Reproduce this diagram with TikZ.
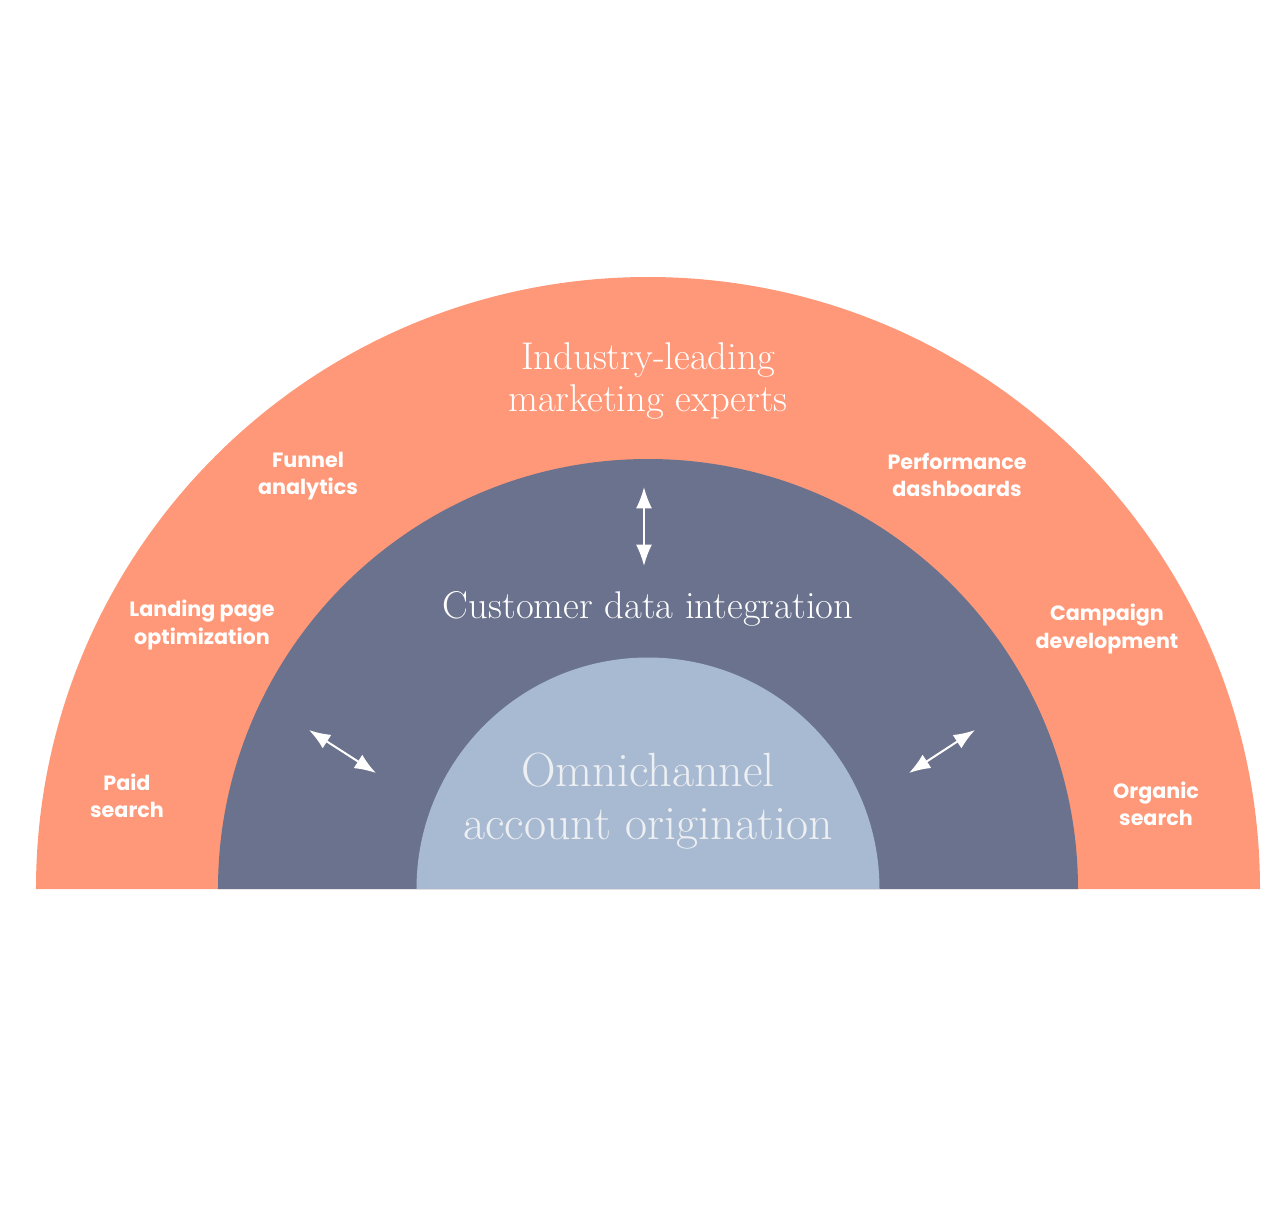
\documentclass[tikz,border=0pt]{standalone}
\usepackage{fontspec}
\newfontfamily\lblfont{Poppins}
\usetikzlibrary{positioning, arrows.meta}

\definecolor{ringout}{HTML}{FF9878}
\definecolor{ringmid}{HTML}{6B728D}
\definecolor{ringin}{HTML}{A8BAD1}
\definecolor{coretext}{HTML}{EDEFF2}

\begin{document}
\begin{tikzpicture}[
    x=0.75pt, y=0.75pt,
    % Estilos de texto
    title/.style={text=white, align=center, font=\fontsize{29}{32}\selectfont},
    coretitle/.style={text=coretext, align=center, font=\fontsize{36}{40}\selectfont},
    channel/.style={text=white, align=center, font=\lblfont\bfseries\fontsize{15.5}{20.5}\selectfont},
    % Estilo de flechas
    link/.style={{Latex[length=16pt, width=12pt]}-{Latex[length=16pt, width=12pt]}, line width=1.5pt, draw=white}
]
\useasboundingbox (-648,-340) rectangle (632,889);

% --- Anillos ---
\fill[ringout] (-612,0) arc (180:0:612) -- cycle;
\fill[ringmid] (-430,0) arc (180:0:430) -- cycle;
\fill[ringin] (-231.5,0) arc (180:0:231.5) -- cycle;

% --- Textos principales ---
\node[title] (experts) at (0,508) {Industry-leading\\marketing experts};
\node[title] (data) at (0,280) {Customer data integration};
\node[coretitle] (core) at (0,88) {Omnichannel\\account origination};

% --- Canales (anillo exterior) ---
\node[channel] (funnel) at (-340,413) {Funnel\\analytics};
\node[channel] (landing) at (-446,264) {Landing page\\optimization};
\node[channel] (paid) at (-521,93) {Paid\\search};
\node[channel] (perf) at (309,414) {Performance\\dashboards};
\node[channel] (campaign) at (459,260) {Campaign\\development};
\node[channel] (organic) at (508,85) {Organic\\search};

% --- Flechas ---
\coordinate (up_a) at (-4,402);
\coordinate (up_b) at (-4,323);
\coordinate (left_a) at (-339,159);
\coordinate (left_b) at (-272,116);
\coordinate (right_a) at (327,159);
\coordinate (right_b) at (261,116);

\draw[link] (up_a) -- (up_b);
\draw[link] (left_a) -- (left_b);
\draw[link] (right_a) -- (right_b);

\end{tikzpicture}
\end{document}
